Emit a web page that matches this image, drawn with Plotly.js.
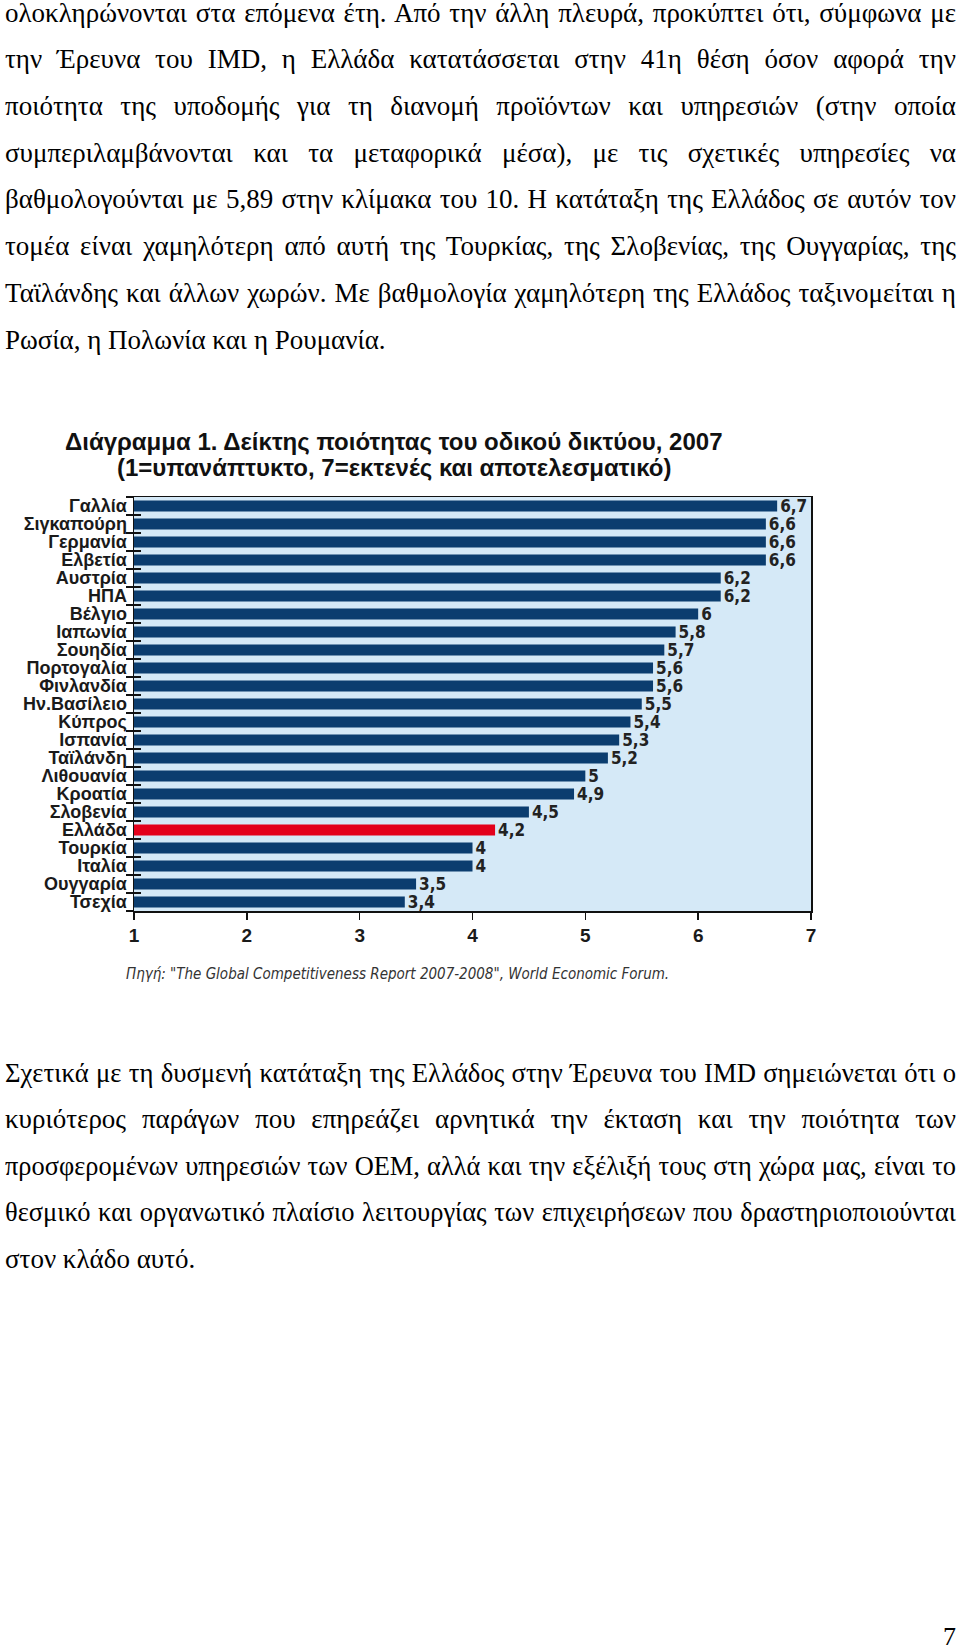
<!DOCTYPE html>
<html>
<head>
<meta charset="utf-8">
<script src="https://cdn.plot.ly/plotly-3.0.1.min.js"></script>
<style>
  html, body { margin:0; padding:0; background:#fff; width:960px; height:1648px; overflow:hidden; }
  .ln { position:absolute; left:5px; width:951px; font-family:"Liberation Serif","Times New Roman",serif; font-size:27px; line-height:30px; height:30px; color:#000; text-align:justify; text-align-last:justify; white-space:nowrap; transform-origin:0 50%; }
  .ln.last { text-align-last:left; }
  .meas { position:absolute; left:-5000px; top:0; font-family:"Liberation Serif","Times New Roman",serif; font-size:27px; white-space:nowrap; }
  #chart { position:absolute; left:0; top:400px; width:960px; height:600px; }
  #pg { position:absolute; left:930px; top:1622px; width:26px; text-align:right; font-family:"Liberation Serif",serif; font-size:26px; line-height:30px; }
</style>
</head>
<body>
<div id="text1"></div>
<div id="chart"></div>
<div id="text2"></div>
<div id="pg">7</div>
<script>
// ---- page text ----
const para1Lines = [
  "ολοκληρώνονται στα επόμενα έτη. Από την άλλη πλευρά, προκύπτει ότι, σύμφωνα με",
  "την Έρευνα του IMD, η Ελλάδα κατατάσσεται στην 41η θέση όσον αφορά την",
  "ποιότητα της υποδομής για τη διανομή προϊόντων και υπηρεσιών (στην οποία",
  "συμπεριλαμβάνονται και τα μεταφορικά μέσα), με τις σχετικές υπηρεσίες να",
  "βαθμολογούνται με 5,89 στην κλίμακα του 10. Η κατάταξη της Ελλάδος σε αυτόν τον",
  "τομέα είναι χαμηλότερη από αυτή της Τουρκίας, της Σλοβενίας, της Ουγγαρίας, της",
  "Ταϊλάνδης και άλλων χωρών. Με βαθμολογία χαμηλότερη της Ελλάδος ταξινομείται η",
  "Ρωσία, η Πολωνία και η Ρουμανία."
];
const para2Lines = [
  "Σχετικά με τη δυσμενή κατάταξη της Ελλάδος στην Έρευνα του IMD σημειώνεται ότι ο",
  "κυριότερος παράγων που επηρεάζει αρνητικά την έκταση και την ποιότητα των",
  "προσφερομένων υπηρεσιών των ΟΕΜ, αλλά και την εξέλιξή τους στη χώρα μας, είναι το",
  "θεσμικό και οργανωτικό πλαίσιο λειτουργίας των επιχειρήσεων που δραστηριοποιούνται",
  "στον κλάδο αυτό."
];
const TEXT_W = 951;
function placeLines(lines, firstCenter, step, host) {
  const el = document.getElementById(host);
  lines.forEach((t, i) => {
    const m = document.createElement('span');
    m.className = 'meas';
    m.textContent = t;
    document.body.appendChild(m);
    const natural = m.getBoundingClientRect().width;
    m.remove();
    const s = natural > TEXT_W - 8 ? (TEXT_W - 8) / natural : 1;
    const d = document.createElement('div');
    d.className = 'ln' + (i === lines.length - 1 ? ' last' : '');
    d.style.top = (firstCenter + i * step - 15) + 'px';
    d.style.width = (TEXT_W / s) + 'px';
    if (s < 1) d.style.transform = 'scaleX(' + s + ')';
    d.textContent = t;
    el.appendChild(d);
  });
}
placeLines(para1Lines, 12.6, 46.7, 'text1');
placeLines(para2Lines, 1072.5, 46.5, 'text2');

// ---- chart data ----
const countries = ["Γαλλία","Σιγκαπούρη","Γερμανία","Ελβετία","Αυστρία","ΗΠΑ","Βέλγιο","Ιαπωνία","Σουηδία","Πορτογαλία","Φινλανδία","Ην.Βασίλειο","Κύπρος","Ισπανία","Ταϊλάνδη","Λιθουανία","Κροατία","Σλοβενία","Ελλάδα","Τουρκία","Ιταλία","Ουγγαρία","Τσεχία"];
const scores = [6.7,6.6,6.6,6.6,6.2,6.2,6.0,5.8,5.7,5.6,5.6,5.5,5.4,5.3,5.2,5.0,4.9,4.5,4.2,4.0,4.0,3.5,3.4];
const highlight = "Ελλάδα";
const xTicks = [1,2,3,4,5,6,7];
const titleLine1 = "Διάγραμμα 1. Δείκτης ποιότητας του οδικού δικτύου, 2007";
const titleLine2 = "(1=υπανάπτυκτο, 7=εκτενές και αποτελεσματικό)";
const sourceText = "Πηγή: \"The Global Competitiveness Report 2007-2008\", World Economic Forum.";

const navy = "#0b3d6f", red = "#e3001b";
const barColors = countries.map(c => c === highlight ? red : navy);
const labels = scores.map(v => String(v).replace('.', ','));

const labelFont = "Liberation Sans, Arial, sans-serif";
const narrowFont = "Liberation Sans Narrow, DejaVu Sans Condensed, Arial Narrow, sans-serif";

const traces = [
  {
    type: 'bar', orientation: 'h', x: scores, y: countries,
    marker: { color: barColors, line: { width: 0 } },
    width: 0.6,
    text: labels, textposition: 'outside', cliponaxis: false, constraintext: 'none',
    textfont: { family: narrowFont, size: 17, color: '#222', weight: 'bold' },
    hoverinfo: 'skip'
  },
  {
    type: 'bar', orientation: 'h', x: scores, y: countries, yaxis: 'y2',
    marker: { color: 'rgba(0,0,0,0)' }, width: 0.6, hoverinfo: 'skip', showlegend: false
  }
];

const layout = {
  width: 960, height: 600,
  margin: { l: 134, r: 149, t: 97, b: 89 },
  paper_bgcolor: 'rgba(0,0,0,0)',
  plot_bgcolor: '#d5e9f7',
  showlegend: false,
  xaxis: {
    range: [1, 7], tickvals: xTicks, ticktext: xTicks.map(String),
    showgrid: false, zeroline: false,
    showline: true, linecolor: '#111', linewidth: 1.5, mirror: true,
    ticks: 'outside', ticklen: 7, tickwidth: 1.5, tickcolor: '#111',
    tickfont: { family: labelFont, size: 19, color: '#1a1a1a', weight: 'bold' },
    fixedrange: true
  },
  yaxis: {
    type: 'category', categoryarray: countries, categoryorder: 'array',
    tickmode: 'array', tickvals: countries, ticktext: countries,
    autorange: 'reversed',
    showgrid: false, zeroline: false,
    showline: true, linecolor: '#111', linewidth: 1.5, mirror: true,
    ticks: 'outside', ticklen: 7, tickwidth: 1.2, tickcolor: '#111', tickson: 'boundaries',
    ticklabelstandoff: 2,
    tickfont: { family: labelFont, size: 18, color: '#1a1a1a', weight: 'bold' },
    fixedrange: true
  },
  yaxis2: {
    type: 'category', categoryarray: countries, categoryorder: 'array',
    tickmode: 'array', tickvals: countries,
    autorange: 'reversed', overlaying: 'y', side: 'left',
    showgrid: false, zeroline: false, showline: false,
    ticks: 'inside', ticklen: 7, tickwidth: 1.2, tickcolor: '#111', tickson: 'boundaries',
    showticklabels: false, fixedrange: true
  },
  annotations: [
    {
      xref: 'paper', yref: 'paper', x: 0.384, y: (911 - 441) / 414, xanchor: 'center', yanchor: 'middle',
      text: "<b>" + titleLine1 + "</b>", showarrow: false,
      font: { family: labelFont, size: 24, color: '#111' }
    },
    {
      xref: 'paper', yref: 'paper', x: 0.384, y: (911 - 468) / 414, xanchor: 'center', yanchor: 'middle',
      text: "<b>" + titleLine2 + "</b>", showarrow: false,
      font: { family: labelFont, size: 24, color: '#111' }
    },
    {
      xref: 'paper', yref: 'paper', x: -0.0148, y: -0.152, xanchor: 'left', yanchor: 'middle',
      text: "<i>" + sourceText + "</i>", showarrow: false,
      font: { family: narrowFont, size: 15, color: '#333' }
    }
  ]
};

Plotly.newPlot('chart', traces, layout, { displayModeBar: false, staticPlot: true });
</script>
</body>
</html>
